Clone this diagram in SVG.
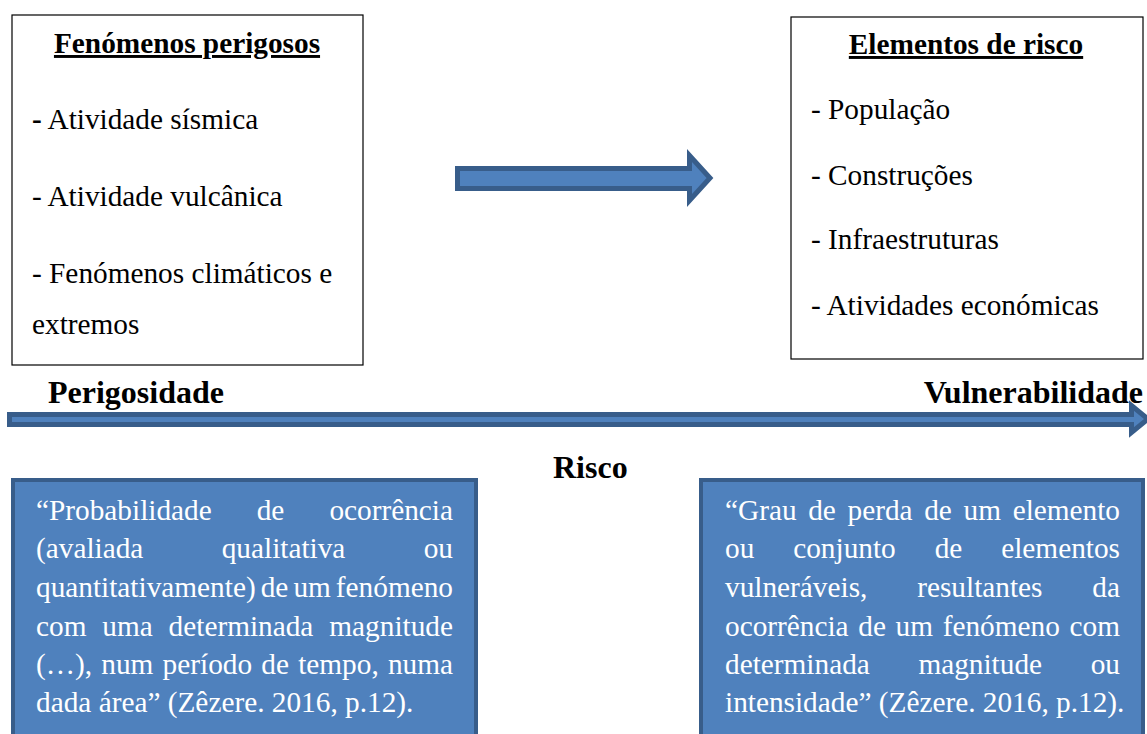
<svg xmlns="http://www.w3.org/2000/svg" width="1147" height="734" viewBox="0 0 1147 734">
<style>
.t{font-family:"Liberation Serif","Times New Roman",serif;font-size:29.3px;fill:#000}
.b{font-weight:bold}
.h{font-size:32px;font-weight:bold}
.w{font-family:"Liberation Serif","Times New Roman",serif;font-size:29.3px;fill:#fff}
.box{fill:#fff;stroke:#000;stroke-width:1.2}
.blue{fill:#4F81BD;stroke:#385D8A;stroke-width:4}
.arrow{fill:#4F81BD;stroke:#385D8A;stroke-width:5;stroke-linejoin:miter}
.e{text-anchor:end}
</style>
<rect width="1147" height="734" fill="#fff"/>
<g id="connectors">
<path class="arrow" d="M457.5,168.5 H689.5 V155.5 L710,178 L689.5,200.5 V188.5 H457.5 Z"/>
<path class="arrow" d="M9.5,414.5 H1131.5 V405.5 L1148,419 L1131.5,432.5 V424.5 H9.5 Z"/>
</g>
<g id="fenomenos">
<rect class="box" x="12" y="15" width="351" height="350"/>
<text class="t b" x="187" y="53" text-anchor="middle" text-decoration="underline">Fenómenos perigosos</text>
<text class="t" x="32" y="129"><tspan font-weight="bold">-</tspan> Atividade sísmica</text>
<text class="t" x="32" y="206">- Atividade vulcânica</text>
<text class="t" x="32" y="283">- Fenómenos climáticos e</text>
<text class="t" x="32" y="334">extremos</text>
</g>
<g id="elementos">
<rect class="box" x="791" y="17" width="352" height="342"/>
<text class="t b" x="966" y="54" text-anchor="middle" text-decoration="underline">Elementos de risco</text>
<text class="t" x="811" y="119">- População</text>
<text class="t" x="811" y="185">- Construções</text>
<text class="t" x="811" y="249">- Infraestruturas</text>
<text class="t" x="811" y="315">- Atividades económicas</text>
</g>
<g id="labels">
<text class="t h" x="48" y="403">Perigosidade</text>
<text class="t h e" x="1143" y="403">Vulnerabilidade</text>
<text class="t h" x="553" y="478">Risco</text>
</g>
<g id="perigosidade-def">
<rect class="blue" x="13" y="480" width="463" height="262"/>
<text class="w" y="520"><tspan x="36">“Probabilidade</tspan><tspan x="256.7">de</tspan><tspan x="453" text-anchor="end">ocorrência</tspan></text>
<text class="w" y="558"><tspan x="36">(avaliada</tspan><tspan x="221.7">qualitativa</tspan><tspan x="453" text-anchor="end">ou</tspan></text>
<text class="w" y="597"><tspan x="36">quantitativamente)</tspan><tspan x="260.7">de</tspan><tspan x="293.4">um</tspan><tspan x="453" text-anchor="end">fenómeno</tspan></text>
<text class="w" y="636"><tspan x="36">com</tspan><tspan x="102.3">uma</tspan><tspan x="168.6">determinada</tspan><tspan x="453" text-anchor="end">magnitude</tspan></text>
<text class="w" y="674"><tspan x="36">(…),</tspan><tspan x="101.3">num</tspan><tspan x="162.6">período</tspan><tspan x="261.3">de</tspan><tspan x="298.2">tempo,</tspan><tspan x="453" text-anchor="end">numa</tspan></text>
<text class="w" x="36" y="712">dada área” (Zêzere. 2016, p.12).</text>
</g>
<g id="vulnerabilidade-def">
<rect class="blue" x="701" y="480" width="442" height="262"/>
<text class="w" y="520"><tspan x="725">“Grau</tspan><tspan x="808.2">de</tspan><tspan x="847.5">perda</tspan><tspan x="924.2">de</tspan><tspan x="963.5">um</tspan><tspan x="1120" text-anchor="end">elemento</tspan></text>
<text class="w" y="558"><tspan x="725">ou</tspan><tspan x="793.2">conjunto</tspan><tspan x="934.7">de</tspan><tspan x="1120" text-anchor="end">elementos</tspan></text>
<text class="w" y="597"><tspan x="725">vulneráveis,</tspan><tspan x="917.2">resultantes</tspan><tspan x="1120" text-anchor="end">da</tspan></text>
<text class="w" y="636"><tspan x="725">ocorrência</tspan><tspan x="858.3">de</tspan><tspan x="895.6">um</tspan><tspan x="942.7">fenómeno</tspan><tspan x="1120" text-anchor="end">com</tspan></text>
<text class="w" y="674"><tspan x="725">determinada</tspan><tspan x="918.4">magnitude</tspan><tspan x="1120" text-anchor="end">ou</tspan></text>
<text class="w" x="725" y="712">intensidade” (Zêzere. 2016, p.12).</text>
</g>
</svg>
